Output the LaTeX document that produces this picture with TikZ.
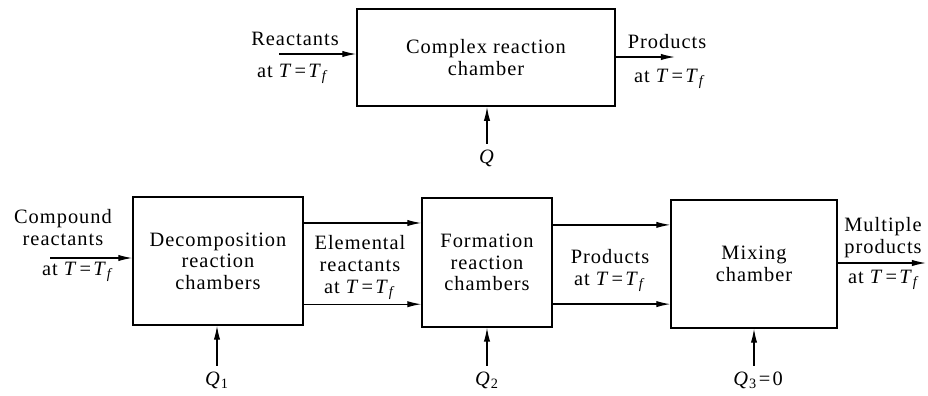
\documentclass[tikz,border=0pt]{standalone}
\usepackage{fontspec}
\setmainfont{Liberation Serif}[LetterSpace=5]
\usetikzlibrary{arrows.meta,positioning,calc}
\newcommand{\TTf}{\textit{T}\kern1.5pt=\kern1.5pt\textit{T}\textsubscript{\textit{f}}}

\begin{document}
\begin{tikzpicture}[x=0.025cm, y=-0.025cm,
      arr/.style={-{Latex[length=10pt,width=4.5pt]}, line width=0.9pt},
      chamber/.style={draw, line width=0.9pt, align=center, inner sep=2pt},
      lbl/.style={align=center, inner sep=1pt, anchor=base},
      qlbl/.style={lbl, inner sep=4pt},
      font=\fontsize{14.5}{15.3}\selectfont
    ]
    \useasboundingbox (0,0) rectangle (928,395);
    % single reaction chamber
    \node[chamber, minimum width=6.45cm, minimum height=2.43cm] (cplx) at (486,57.5) {Complex reaction\\chamber};
    \coordinate (rin) at (279,54);
    \coordinate (pout) at (675,57);
    \node[lbl] (reac) at (295,45) {Reactants};
    \node[lbl] (reacT) at (293,77) {at \TTf};
    \node[lbl] (prod) at (667,48) {Products};
    \node[lbl] (prodT) at (670,82) {at \TTf};
    \node[qlbl] (q) at (487,163) {\textit{Q}};
    \draw[arr] (rin) -- (rin -| cplx.west);
    \draw[arr] (cplx.east |- pout) -- (pout);
    \draw[arr] (q.north) -- (q.north |- cplx.south);
    % three-stage equivalent
    \node[chamber, minimum width=4.25cm, minimum height=3.2cm] (dec) at (218,261) {Decomposition\\reaction\\chambers};
    \node[chamber, minimum width=3.25cm, minimum height=3.22cm] (form) at (487,262.5) {Formation\\reaction\\chambers};
    \node[chamber, minimum width=4.15cm, minimum height=3.2cm] (mix) at (754,264) {Mixing\\chamber};
    \coordinate (cin) at (50,258);
    \coordinate (mout) at (926,263);
    \node[lbl] (comp) at (63,245) {Compound\\reactants};
    \node[lbl] (compT) at (78,275) {at \TTf};
    \node[lbl] (elem) at (360,293) {Elemental\\reactants\\at \TTf};
    \node[lbl] (mprod) at (610,285) {Products\\at \TTf};
    \node[lbl] (multi) at (883,253) {Multiple\\products};
    \node[lbl] (multiT) at (884,283) {at \TTf};
    \node[qlbl] (q1) at (217,385) {\textit{Q}\textsubscript{1}};
    \node[qlbl] (q2) at (487,385) {\textit{Q}\textsubscript{2}};
    \node[qlbl] (q3) at (758,385) {\textit{Q}\textsubscript{3}\kern1.5pt=\kern1.5pt0};
    \draw[arr] (cin) -- (cin -| dec.west);
    \draw[arr] ([yshift=0.95cm]dec.east) -- ([yshift=0.95cm]dec.east -| form.west);
    \draw[arr] ([yshift=-1.08cm]dec.east) -- ([yshift=-1.08cm]dec.east -| form.west);
    \draw[arr] ([yshift=0.94cm]form.east) -- ([yshift=0.94cm]form.east -| mix.west);
    \draw[arr] ([yshift=-1.04cm]form.east) -- ([yshift=-1.04cm]form.east -| mix.west);
    \draw[arr] (mix.east |- mout) -- (mout);
    \draw[arr] (q1.north) -- (q1.north |- dec.south);
    \draw[arr] (q2.north) -- (q2.north |- form.south);
    \draw[arr] (q3.north -| mix.south) -- (mix.south);
  \end{tikzpicture}
\end{document}
